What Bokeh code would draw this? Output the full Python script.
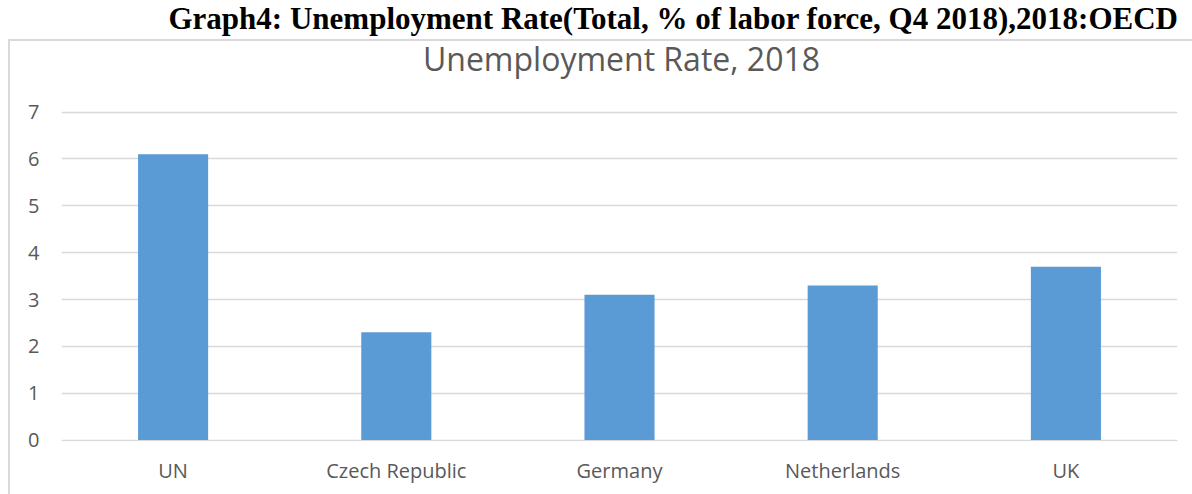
from bokeh.plotting import figure
from bokeh.models import Range1d, Label
from bokeh.embed import file_html
from bokeh.resources import INLINE

categories = ["UN", "Czech Republic", "Germany", "Netherlands", "UK"]
values = [6.1, 2.3, 3.1, 3.3, 3.7]
y_ticks = [0, 1, 2, 3, 4, 5, 6, 7]
top_title = "Graph4: Unemployment Rate(Total, % of labor force, Q4 2018),2018:OECD"
chart_title = "Unemployment Rate, 2018"

TEXT = "#595959"
GRID = "#d9d9d9"
BAR = "#5b9bd5"
FONT = "Open Sans"

# frame spans the full height above the x axis; the y range end leaves room for the titles
p = figure(width=1192, height=494, x_range=categories, y_range=Range1d(-0.03, 9.383),
           title=None, output_backend="svg", toolbar_location=None,
           min_border_left=61, min_border_right=15, min_border_top=0, min_border_bottom=53)
p.outline_line_color = None
p.background_fill_color = None
p.border_fill_color = None

p.vbar(x=categories, top=values, width=0.314, color=BAR, line_color=None)

p.xgrid.grid_line_color = None
p.ygrid.grid_line_color = GRID
p.ygrid.grid_line_width = 1.5
p.yaxis.ticker = y_ticks

for ax in (p.xaxis, p.yaxis):
    ax.axis_line_color = None
    ax.major_tick_line_color = None
    ax.minor_tick_line_color = None
    ax.major_tick_out = 0
    ax.major_tick_in = 0
    ax.major_label_text_font = FONT
    ax.major_label_text_font_size = "20px"
    ax.major_label_text_color = TEXT
p.yaxis.major_label_standoff = 22
p.xaxis.major_label_standoff = 15

p.add_layout(Label(x=560, y=383, x_units="screen", y_units="screen", text=chart_title,
                   text_font=FONT, text_font_size="32px", text_color=TEXT,
                   text_align="center", text_baseline="alphabetic"))
p.add_layout(Label(x=1117, y=423, x_units="screen", y_units="screen", text=top_title,
                   text_font="Liberation Serif", text_font_style="bold", text_font_size="31px",
                   text_color="black", text_align="right", text_baseline="alphabetic"))

line = GRID
p.styles = {
    "background": (f"linear-gradient({line},{line}) 8px 39px / 2px 600px no-repeat, "
                   f"linear-gradient({line},{line}) 8px 39px / 1300px 2px no-repeat, white"),
}

open("out.html", "w").write(file_html(p, INLINE))
